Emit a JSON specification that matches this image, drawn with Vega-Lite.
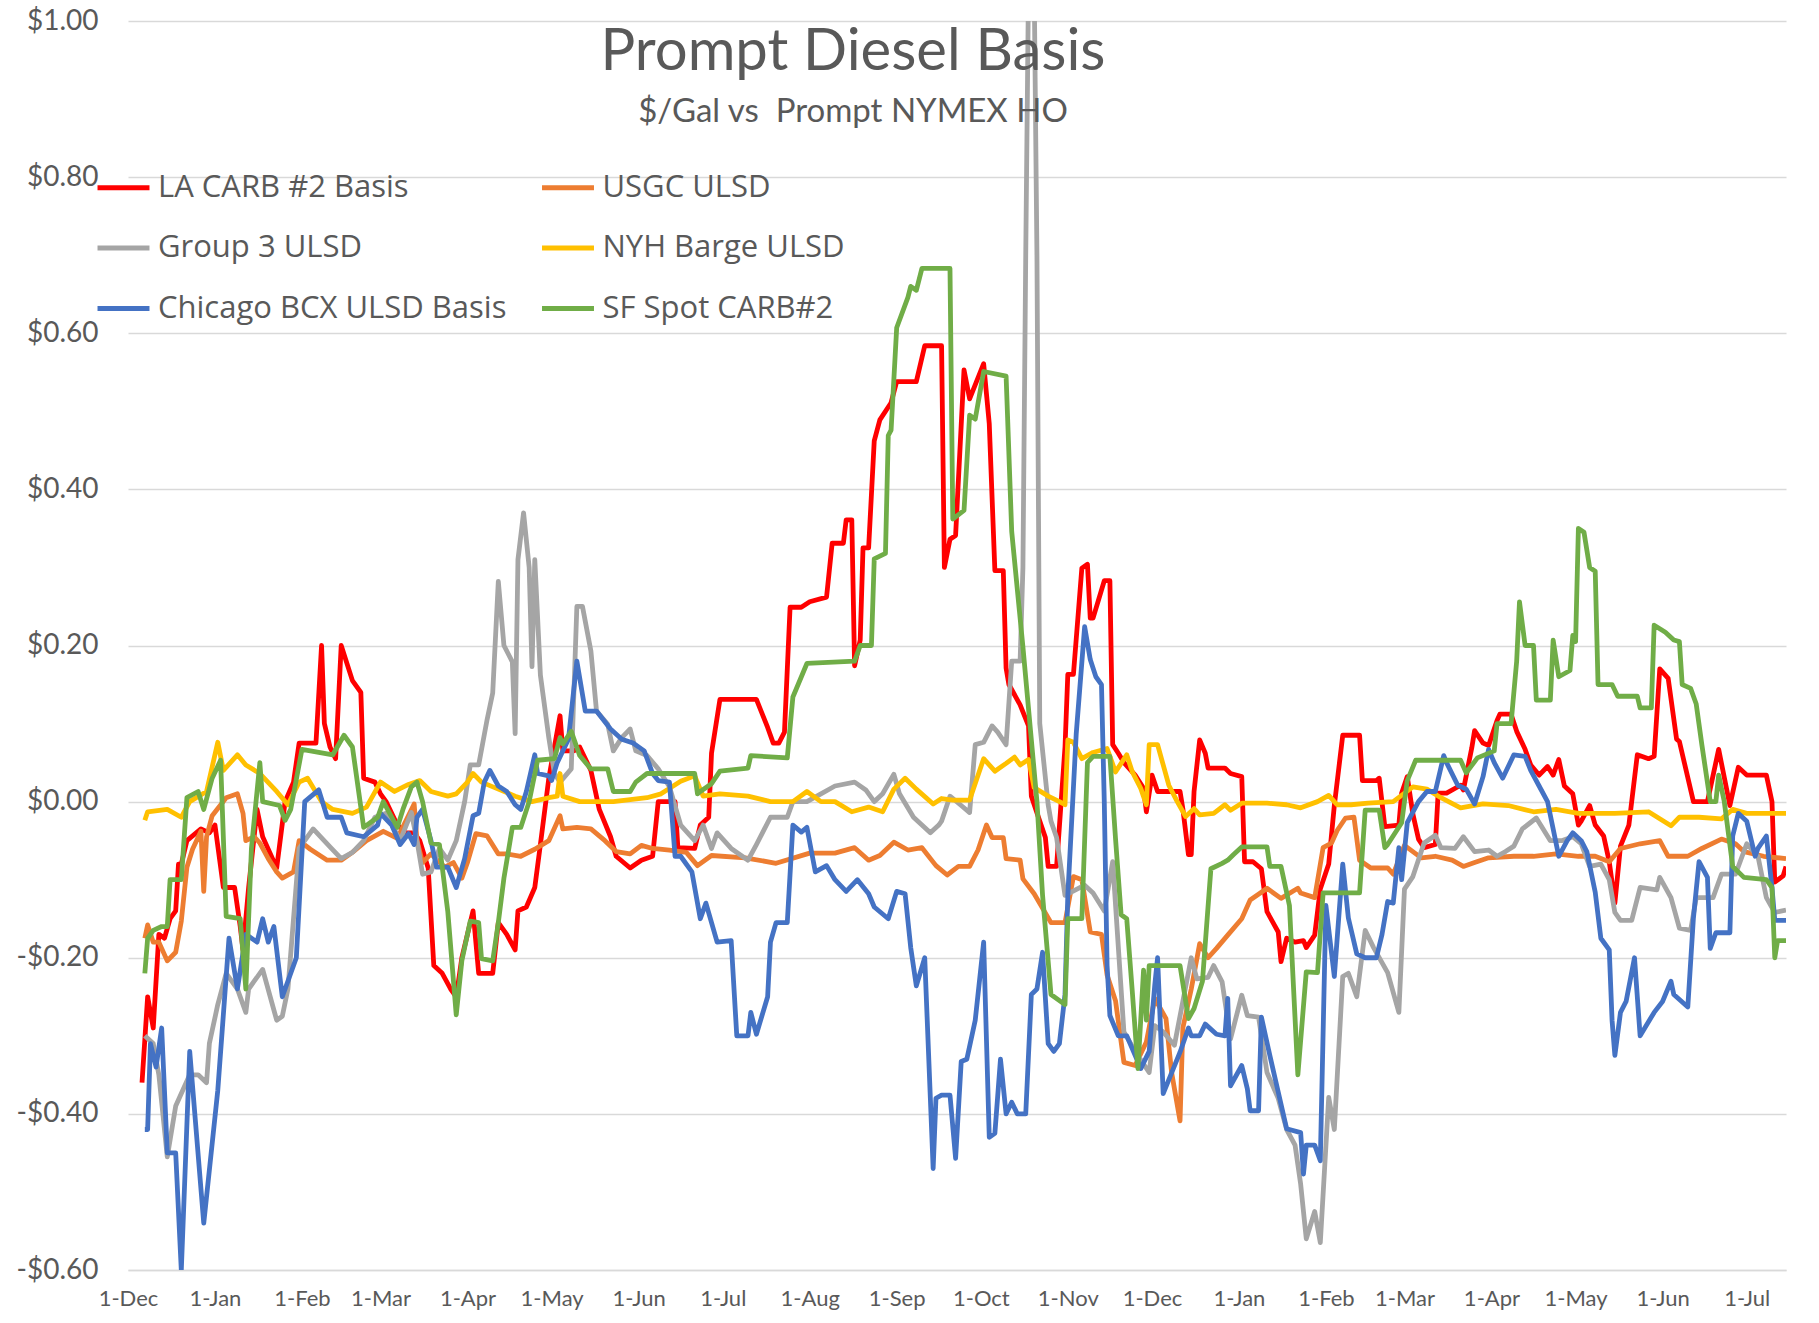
{
"$schema": "https://vega.github.io/schema/vega-lite/v6.json",
"width": 1658,
"height": 1249,
"autosize": "none",
"padding": {"left": 128, "top": 21, "right": 33, "bottom": 53},
"background": "white",
"config": {"view": {"stroke": null}, "font": "Lato"},
"title": {"text": "Prompt Diesel Basis", "subtitle": "$/Gal vs\u00a0 Prompt NYMEX HO", "anchor": "middle", "frame": "group", "dx": -104, "dy": 126, "fontSize": 58, "fontWeight": "normal", "font": "Lato", "color": "#595959", "subtitleFont": "Lato", "subtitleFontSize": 33, "subtitleColor": "#595959", "subtitlePadding": 14},
"datasets": {
"la": [{"d":"2021-12-06","v":-0.36},{"d":"2021-12-08","v":-0.25},{"d":"2021-12-10","v":-0.29},{"d":"2021-12-12","v":-0.17},{"d":"2021-12-14","v":-0.175},{"d":"2021-12-16","v":-0.15},{"d":"2021-12-18","v":-0.14},{"d":"2021-12-19","v":-0.08},{"d":"2021-12-20","v":-0.08},{"d":"2021-12-22","v":-0.05},{"d":"2021-12-27","v":-0.035},{"d":"2021-12-30","v":-0.04},{"d":"2022-01-01","v":-0.03},{"d":"2022-01-04","v":-0.11},{"d":"2022-01-08","v":-0.11},{"d":"2022-01-10","v":-0.16},{"d":"2022-01-11","v":-0.19},{"d":"2022-01-13","v":-0.11},{"d":"2022-01-16","v":-0.01},{"d":"2022-01-18","v":-0.045},{"d":"2022-01-23","v":-0.085},{"d":"2022-01-26","v":0.0},{"d":"2022-01-29","v":0.025},{"d":"2022-01-31","v":0.075},{"d":"2022-02-06","v":0.075},{"d":"2022-02-08","v":0.2},{"d":"2022-02-09","v":0.1},{"d":"2022-02-11","v":0.07},{"d":"2022-02-13","v":0.055},{"d":"2022-02-15","v":0.2},{"d":"2022-02-19","v":0.155},{"d":"2022-02-22","v":0.14},{"d":"2022-02-23","v":0.03},{"d":"2022-02-27","v":0.025},{"d":"2022-03-01","v":0.01},{"d":"2022-03-03","v":0.0},{"d":"2022-03-07","v":-0.03},{"d":"2022-03-10","v":-0.04},{"d":"2022-03-13","v":-0.04},{"d":"2022-03-15","v":-0.05},{"d":"2022-03-18","v":-0.085},{"d":"2022-03-20","v":-0.21},{"d":"2022-03-23","v":-0.22},{"d":"2022-03-26","v":-0.24},{"d":"2022-03-28","v":-0.25},{"d":"2022-03-30","v":-0.2},{"d":"2022-04-03","v":-0.14},{"d":"2022-04-05","v":-0.22},{"d":"2022-04-10","v":-0.22},{"d":"2022-04-12","v":-0.155},{"d":"2022-04-15","v":-0.17},{"d":"2022-04-18","v":-0.19},{"d":"2022-04-19","v":-0.14},{"d":"2022-04-22","v":-0.135},{"d":"2022-04-25","v":-0.11},{"d":"2022-04-27","v":-0.055},{"d":"2022-04-30","v":0.03},{"d":"2022-05-04","v":0.11},{"d":"2022-05-05","v":0.065},{"d":"2022-05-09","v":0.065},{"d":"2022-05-11","v":0.07},{"d":"2022-05-15","v":0.04},{"d":"2022-05-18","v":-0.01},{"d":"2022-05-22","v":-0.045},{"d":"2022-05-24","v":-0.07},{"d":"2022-05-29","v":-0.085},{"d":"2022-06-02","v":-0.075},{"d":"2022-06-06","v":-0.07},{"d":"2022-06-08","v":0.0},{"d":"2022-06-14","v":0.0},{"d":"2022-06-15","v":-0.059},{"d":"2022-06-21","v":-0.06},{"d":"2022-06-23","v":-0.03},{"d":"2022-06-26","v":-0.02},{"d":"2022-06-27","v":0.062},{"d":"2022-06-30","v":0.131},{"d":"2022-07-13","v":0.131},{"d":"2022-07-17","v":0.095},{"d":"2022-07-19","v":0.075},{"d":"2022-07-21","v":0.075},{"d":"2022-07-23","v":0.089},{"d":"2022-07-25","v":0.249},{"d":"2022-07-29","v":0.249},{"d":"2022-08-01","v":0.256},{"d":"2022-08-07","v":0.262},{"d":"2022-08-09","v":0.331},{"d":"2022-08-13","v":0.331},{"d":"2022-08-14","v":0.361},{"d":"2022-08-16","v":0.361},{"d":"2022-08-17","v":0.174},{"d":"2022-08-19","v":0.207},{"d":"2022-08-20","v":0.325},{"d":"2022-08-22","v":0.325},{"d":"2022-08-24","v":0.462},{"d":"2022-08-26","v":0.489},{"d":"2022-08-30","v":0.511},{"d":"2022-09-01","v":0.538},{"d":"2022-09-08","v":0.538},{"d":"2022-09-11","v":0.584},{"d":"2022-09-17","v":0.584},{"d":"2022-09-18","v":0.3},{"d":"2022-09-20","v":0.336},{"d":"2022-09-22","v":0.341},{"d":"2022-09-25","v":0.553},{"d":"2022-09-27","v":0.516},{"d":"2022-10-02","v":0.561},{"d":"2022-10-04","v":0.484},{"d":"2022-10-06","v":0.296},{"d":"2022-10-09","v":0.296},{"d":"2022-10-10","v":0.171},{"d":"2022-10-11","v":0.15},{"d":"2022-10-15","v":0.124},{"d":"2022-10-18","v":0.097},{"d":"2022-10-19","v":0.007},{"d":"2022-10-22","v":-0.025},{"d":"2022-10-24","v":-0.046},{"d":"2022-10-25","v":-0.083},{"d":"2022-10-28","v":-0.083},{"d":"2022-10-31","v":0.07},{"d":"2022-11-01","v":0.163},{"d":"2022-11-03","v":0.163},{"d":"2022-11-06","v":0.299},{"d":"2022-11-08","v":0.304},{"d":"2022-11-09","v":0.235},{"d":"2022-11-10","v":0.235},{"d":"2022-11-14","v":0.283},{"d":"2022-11-16","v":0.283},{"d":"2022-11-17","v":0.073},{"d":"2022-11-19","v":0.062},{"d":"2022-11-21","v":0.05},{"d":"2022-11-25","v":0.034},{"d":"2022-11-28","v":0.017},{"d":"2022-11-29","v":-0.013},{"d":"2022-12-01","v":0.034},{"d":"2022-12-03","v":0.013},{"d":"2022-12-11","v":0.013},{"d":"2022-12-12","v":-0.009},{"d":"2022-12-14","v":-0.068},{"d":"2022-12-15","v":-0.068},{"d":"2022-12-16","v":0.013},{"d":"2022-12-18","v":0.079},{"d":"2022-12-20","v":0.062},{"d":"2022-12-21","v":0.043},{"d":"2022-12-27","v":0.043},{"d":"2022-12-29","v":0.036},{"d":"2023-01-02","v":0.032},{"d":"2023-01-03","v":-0.077},{"d":"2023-01-06","v":-0.077},{"d":"2023-01-09","v":-0.086},{"d":"2023-01-11","v":-0.141},{"d":"2023-01-13","v":-0.154},{"d":"2023-01-15","v":-0.167},{"d":"2023-01-16","v":-0.205},{"d":"2023-01-18","v":-0.175},{"d":"2023-01-21","v":-0.18},{"d":"2023-01-24","v":-0.178},{"d":"2023-01-25","v":-0.187},{"d":"2023-01-28","v":-0.171},{"d":"2023-01-30","v":-0.112},{"d":"2023-02-02","v":-0.08},{"d":"2023-02-04","v":-0.005},{"d":"2023-02-07","v":0.085},{"d":"2023-02-13","v":0.085},{"d":"2023-02-14","v":0.027},{"d":"2023-02-19","v":0.027},{"d":"2023-02-20","v":0.03},{"d":"2023-02-22","v":-0.032},{"d":"2023-02-27","v":-0.03},{"d":"2023-02-28","v":0.011},{"d":"2023-03-02","v":0.032},{"d":"2023-03-04","v":-0.016},{"d":"2023-03-06","v":-0.048},{"d":"2023-03-08","v":-0.059},{"d":"2023-03-12","v":-0.055},{"d":"2023-03-13","v":0.011},{"d":"2023-03-16","v":0.011},{"d":"2023-03-21","v":0.021},{"d":"2023-03-22","v":0.015},{"d":"2023-03-25","v":0.069},{"d":"2023-03-26","v":0.091},{"d":"2023-03-29","v":0.075},{"d":"2023-03-31","v":0.072},{"d":"2023-04-03","v":0.104},{"d":"2023-04-04","v":0.112},{"d":"2023-04-08","v":0.112},{"d":"2023-04-10","v":0.09},{"d":"2023-04-13","v":0.067},{"d":"2023-04-15","v":0.047},{"d":"2023-04-18","v":0.034},{"d":"2023-04-21","v":0.045},{"d":"2023-04-23","v":0.034},{"d":"2023-04-25","v":0.054},{"d":"2023-04-27","v":0.02},{"d":"2023-04-30","v":0.01},{"d":"2023-05-02","v":-0.03},{"d":"2023-05-03","v":-0.025},{"d":"2023-05-06","v":-0.005},{"d":"2023-05-08","v":-0.03},{"d":"2023-05-11","v":-0.044},{"d":"2023-05-13","v":-0.077},{"d":"2023-05-15","v":-0.13},{"d":"2023-05-17","v":-0.057},{"d":"2023-05-20","v":-0.03},{"d":"2023-05-23","v":0.06},{"d":"2023-05-27","v":0.055},{"d":"2023-05-29","v":0.058},{"d":"2023-05-31","v":0.17},{"d":"2023-06-03","v":0.158},{"d":"2023-06-06","v":0.08},{"d":"2023-06-07","v":0.077},{"d":"2023-06-12","v":0.0},{"d":"2023-06-17","v":0.0},{"d":"2023-06-21","v":0.067},{"d":"2023-06-25","v":-0.005},{"d":"2023-06-28","v":0.044},{"d":"2023-07-01","v":0.034},{"d":"2023-07-08","v":0.034},{"d":"2023-07-10","v":0.0},{"d":"2023-07-11","v":-0.103},{"d":"2023-07-14","v":-0.095},{"d":"2023-07-15","v":-0.083}],
"usgc": [{"d":"2021-12-07","v":-0.175},{"d":"2021-12-08","v":-0.158},{"d":"2021-12-10","v":-0.18},{"d":"2021-12-12","v":-0.18},{"d":"2021-12-15","v":-0.204},{"d":"2021-12-18","v":-0.193},{"d":"2021-12-20","v":-0.153},{"d":"2021-12-22","v":-0.084},{"d":"2021-12-24","v":-0.061},{"d":"2021-12-27","v":-0.038},{"d":"2021-12-28","v":-0.115},{"d":"2021-12-29","v":-0.045},{"d":"2021-12-31","v":-0.018},{"d":"2022-01-05","v":0.005},{"d":"2022-01-09","v":0.01},{"d":"2022-01-11","v":-0.015},{"d":"2022-01-12","v":-0.05},{"d":"2022-01-15","v":-0.045},{"d":"2022-01-17","v":-0.053},{"d":"2022-01-20","v":-0.073},{"d":"2022-01-23","v":-0.09},{"d":"2022-01-25","v":-0.098},{"d":"2022-01-29","v":-0.09},{"d":"2022-01-31","v":-0.05},{"d":"2022-02-04","v":-0.061},{"d":"2022-02-10","v":-0.075},{"d":"2022-02-15","v":-0.075},{"d":"2022-02-19","v":-0.065},{"d":"2022-02-24","v":-0.05},{"d":"2022-03-02","v":-0.038},{"d":"2022-03-07","v":-0.047},{"d":"2022-03-13","v":-0.003},{"d":"2022-03-14","v":-0.05},{"d":"2022-03-16","v":-0.078},{"d":"2022-03-19","v":-0.067},{"d":"2022-03-24","v":-0.084},{"d":"2022-03-27","v":-0.078},{"d":"2022-03-30","v":-0.098},{"d":"2022-04-01","v":-0.078},{"d":"2022-04-04","v":-0.041},{"d":"2022-04-08","v":-0.044},{"d":"2022-04-12","v":-0.067},{"d":"2022-04-15","v":-0.067},{"d":"2022-04-20","v":-0.07},{"d":"2022-04-25","v":-0.061},{"d":"2022-04-30","v":-0.05},{"d":"2022-05-04","v":-0.018},{"d":"2022-05-05","v":-0.035},{"d":"2022-05-10","v":-0.033},{"d":"2022-05-15","v":-0.035},{"d":"2022-05-20","v":-0.05},{"d":"2022-05-24","v":-0.064},{"d":"2022-05-29","v":-0.067},{"d":"2022-06-02","v":-0.056},{"d":"2022-06-06","v":-0.06},{"d":"2022-06-12","v":-0.062},{"d":"2022-06-18","v":-0.065},{"d":"2022-06-22","v":-0.082},{"d":"2022-06-27","v":-0.069},{"d":"2022-07-09","v":-0.072},{"d":"2022-07-20","v":-0.079},{"d":"2022-08-01","v":-0.066},{"d":"2022-08-10","v":-0.066},{"d":"2022-08-17","v":-0.059},{"d":"2022-08-22","v":-0.075},{"d":"2022-08-26","v":-0.069},{"d":"2022-08-31","v":-0.052},{"d":"2022-09-05","v":-0.062},{"d":"2022-09-10","v":-0.059},{"d":"2022-09-15","v":-0.082},{"d":"2022-09-19","v":-0.094},{"d":"2022-09-23","v":-0.083},{"d":"2022-09-27","v":-0.083},{"d":"2022-09-30","v":-0.062},{"d":"2022-10-03","v":-0.03},{"d":"2022-10-05","v":-0.046},{"d":"2022-10-09","v":-0.046},{"d":"2022-10-10","v":-0.073},{"d":"2022-10-15","v":-0.075},{"d":"2022-10-16","v":-0.099},{"d":"2022-10-20","v":-0.118},{"d":"2022-10-26","v":-0.155},{"d":"2022-10-31","v":-0.155},{"d":"2022-11-03","v":-0.096},{"d":"2022-11-06","v":-0.1},{"d":"2022-11-09","v":-0.167},{"d":"2022-11-13","v":-0.17},{"d":"2022-11-15","v":-0.222},{"d":"2022-11-18","v":-0.255},{"d":"2022-11-21","v":-0.334},{"d":"2022-11-25","v":-0.338},{"d":"2022-11-29","v":-0.308},{"d":"2022-12-02","v":-0.252},{"d":"2022-12-06","v":-0.278},{"d":"2022-12-08","v":-0.347},{"d":"2022-12-11","v":-0.409},{"d":"2022-12-12","v":-0.29},{"d":"2022-12-15","v":-0.24},{"d":"2022-12-18","v":-0.182},{"d":"2022-12-21","v":-0.2},{"d":"2022-12-24","v":-0.188},{"d":"2022-12-28","v":-0.171},{"d":"2023-01-02","v":-0.15},{"d":"2023-01-05","v":-0.126},{"d":"2023-01-09","v":-0.116},{"d":"2023-01-11","v":-0.111},{"d":"2023-01-16","v":-0.124},{"d":"2023-01-22","v":-0.111},{"d":"2023-01-23","v":-0.117},{"d":"2023-01-28","v":-0.123},{"d":"2023-01-31","v":-0.059},{"d":"2023-02-03","v":-0.053},{"d":"2023-02-05","v":-0.037},{"d":"2023-02-08","v":-0.021},{"d":"2023-02-11","v":-0.02},{"d":"2023-02-13","v":-0.075},{"d":"2023-02-17","v":-0.085},{"d":"2023-02-21","v":-0.085},{"d":"2023-02-23","v":-0.085},{"d":"2023-02-25","v":-0.093},{"d":"2023-03-01","v":-0.056},{"d":"2023-03-04","v":-0.064},{"d":"2023-03-07","v":-0.072},{"d":"2023-03-12","v":-0.07},{"d":"2023-03-18","v":-0.075},{"d":"2023-03-22","v":-0.083},{"d":"2023-03-26","v":-0.078},{"d":"2023-03-31","v":-0.072},{"d":"2023-04-09","v":-0.07},{"d":"2023-04-16","v":-0.07},{"d":"2023-04-24","v":-0.067},{"d":"2023-05-02","v":-0.07},{"d":"2023-05-08","v":-0.07},{"d":"2023-05-13","v":-0.077},{"d":"2023-05-17","v":-0.06},{"d":"2023-05-24","v":-0.054},{"d":"2023-05-31","v":-0.05},{"d":"2023-06-03","v":-0.07},{"d":"2023-06-10","v":-0.07},{"d":"2023-06-15","v":-0.06},{"d":"2023-06-22","v":-0.048},{"d":"2023-06-27","v":-0.054},{"d":"2023-06-30","v":-0.064},{"d":"2023-07-07","v":-0.07},{"d":"2023-07-15","v":-0.073}],
"g3": [{"d":"2021-12-07","v":-0.3},{"d":"2021-12-10","v":-0.31},{"d":"2021-12-12","v":-0.35},{"d":"2021-12-15","v":-0.455},{"d":"2021-12-18","v":-0.39},{"d":"2021-12-23","v":-0.35},{"d":"2021-12-26","v":-0.35},{"d":"2021-12-29","v":-0.36},{"d":"2021-12-30","v":-0.31},{"d":"2022-01-02","v":-0.26},{"d":"2022-01-05","v":-0.22},{"d":"2022-01-09","v":-0.24},{"d":"2022-01-12","v":-0.27},{"d":"2022-01-13","v":-0.24},{"d":"2022-01-18","v":-0.215},{"d":"2022-01-23","v":-0.28},{"d":"2022-01-25","v":-0.275},{"d":"2022-01-27","v":-0.24},{"d":"2022-01-31","v":-0.06},{"d":"2022-02-05","v":-0.035},{"d":"2022-02-11","v":-0.058},{"d":"2022-02-15","v":-0.073},{"d":"2022-02-19","v":-0.065},{"d":"2022-02-23","v":-0.05},{"d":"2022-02-27","v":-0.02},{"d":"2022-03-03","v":-0.015},{"d":"2022-03-08","v":-0.05},{"d":"2022-03-12","v":-0.014},{"d":"2022-03-14","v":-0.05},{"d":"2022-03-16","v":-0.093},{"d":"2022-03-19","v":-0.09},{"d":"2022-03-22","v":-0.06},{"d":"2022-03-25","v":-0.075},{"d":"2022-03-28","v":-0.05},{"d":"2022-03-31","v":0.0},{"d":"2022-04-02","v":0.047},{"d":"2022-04-05","v":0.047},{"d":"2022-04-08","v":0.105},{"d":"2022-04-10","v":0.139},{"d":"2022-04-12","v":0.282},{"d":"2022-04-14","v":0.2},{"d":"2022-04-17","v":0.179},{"d":"2022-04-18","v":0.087},{"d":"2022-04-19","v":0.31},{"d":"2022-04-21","v":0.37},{"d":"2022-04-23","v":0.3},{"d":"2022-04-24","v":0.173},{"d":"2022-04-25","v":0.31},{"d":"2022-04-27","v":0.162},{"d":"2022-04-30","v":0.082},{"d":"2022-05-02","v":0.036},{"d":"2022-05-04","v":0.025},{"d":"2022-05-08","v":0.042},{"d":"2022-05-10","v":0.25},{"d":"2022-05-12","v":0.25},{"d":"2022-05-15","v":0.193},{"d":"2022-05-17","v":0.116},{"d":"2022-05-21","v":0.099},{"d":"2022-05-23","v":0.065},{"d":"2022-05-26","v":0.082},{"d":"2022-05-29","v":0.093},{"d":"2022-05-31","v":0.065},{"d":"2022-06-04","v":0.059},{"d":"2022-06-08","v":0.042},{"d":"2022-06-12","v":0.019},{"d":"2022-06-16","v":-0.03},{"d":"2022-06-21","v":-0.05},{"d":"2022-06-24","v":-0.03},{"d":"2022-06-27","v":-0.06},{"d":"2022-06-29","v":-0.04},{"d":"2022-07-04","v":-0.06},{"d":"2022-07-10","v":-0.075},{"d":"2022-07-13","v":-0.055},{"d":"2022-07-18","v":-0.02},{"d":"2022-07-24","v":-0.02},{"d":"2022-07-26","v":0.0},{"d":"2022-07-31","v":0.0},{"d":"2022-08-05","v":0.01},{"d":"2022-08-10","v":0.02},{"d":"2022-08-17","v":0.025},{"d":"2022-08-21","v":0.015},{"d":"2022-08-24","v":0.0},{"d":"2022-08-27","v":0.01},{"d":"2022-08-31","v":0.035},{"d":"2022-09-02","v":0.01},{"d":"2022-09-07","v":-0.02},{"d":"2022-09-13","v":-0.04},{"d":"2022-09-16","v":-0.03},{"d":"2022-09-17","v":-0.025},{"d":"2022-09-20","v":0.007},{"d":"2022-09-24","v":-0.005},{"d":"2022-09-27","v":-0.014},{"d":"2022-09-29","v":0.073},{"d":"2022-10-02","v":0.076},{"d":"2022-10-05","v":0.097},{"d":"2022-10-07","v":0.089},{"d":"2022-10-10","v":0.073},{"d":"2022-10-12","v":0.18},{"d":"2022-10-15","v":0.18},{"d":"2022-10-16","v":0.3},{"d":"2022-10-17","v":0.7},{"d":"2022-10-19","v":1.4},{"d":"2022-10-21","v":0.7},{"d":"2022-10-22","v":0.1},{"d":"2022-10-25","v":-0.004},{"d":"2022-10-26","v":-0.025},{"d":"2022-10-28","v":-0.046},{"d":"2022-10-31","v":-0.12},{"d":"2022-11-07","v":-0.107},{"d":"2022-11-10","v":-0.117},{"d":"2022-11-14","v":-0.14},{"d":"2022-11-17","v":-0.077},{"d":"2022-11-21","v":-0.295},{"d":"2022-11-25","v":-0.32},{"d":"2022-11-30","v":-0.347},{"d":"2022-12-02","v":-0.287},{"d":"2022-12-05","v":-0.295},{"d":"2022-12-09","v":-0.312},{"d":"2022-12-15","v":-0.2},{"d":"2022-12-17","v":-0.227},{"d":"2022-12-21","v":-0.225},{"d":"2022-12-23","v":-0.21},{"d":"2022-12-26","v":-0.231},{"d":"2022-12-29","v":-0.304},{"d":"2023-01-02","v":-0.248},{"d":"2023-01-04","v":-0.274},{"d":"2023-01-08","v":-0.276},{"d":"2023-01-11","v":-0.347},{"d":"2023-01-15","v":-0.38},{"d":"2023-01-18","v":-0.42},{"d":"2023-01-21","v":-0.44},{"d":"2023-01-23","v":-0.49},{"d":"2023-01-25","v":-0.56},{"d":"2023-01-28","v":-0.525},{"d":"2023-01-30","v":-0.565},{"d":"2023-02-02","v":-0.379},{"d":"2023-02-04","v":-0.42},{"d":"2023-02-07","v":-0.224},{"d":"2023-02-09","v":-0.22},{"d":"2023-02-12","v":-0.25},{"d":"2023-02-15","v":-0.165},{"d":"2023-02-18","v":-0.187},{"d":"2023-02-23","v":-0.219},{"d":"2023-02-27","v":-0.27},{"d":"2023-03-01","v":-0.112},{"d":"2023-03-04","v":-0.096},{"d":"2023-03-08","v":-0.053},{"d":"2023-03-12","v":-0.043},{"d":"2023-03-14","v":-0.059},{"d":"2023-03-19","v":-0.06},{"d":"2023-03-22","v":-0.045},{"d":"2023-03-26","v":-0.064},{"d":"2023-03-31","v":-0.062},{"d":"2023-04-03","v":-0.07},{"d":"2023-04-06","v":-0.064},{"d":"2023-04-09","v":-0.057},{"d":"2023-04-12","v":-0.035},{"d":"2023-04-17","v":-0.021},{"d":"2023-04-22","v":-0.05},{"d":"2023-04-26","v":-0.05},{"d":"2023-04-30","v":-0.045},{"d":"2023-05-03","v":-0.054},{"d":"2023-05-06","v":-0.083},{"d":"2023-05-10","v":-0.08},{"d":"2023-05-13","v":-0.1},{"d":"2023-05-15","v":-0.142},{"d":"2023-05-17","v":-0.152},{"d":"2023-05-21","v":-0.152},{"d":"2023-05-24","v":-0.11},{"d":"2023-05-30","v":-0.113},{"d":"2023-05-31","v":-0.097},{"d":"2023-06-04","v":-0.123},{"d":"2023-06-07","v":-0.162},{"d":"2023-06-11","v":-0.165},{"d":"2023-06-13","v":-0.123},{"d":"2023-06-19","v":-0.123},{"d":"2023-06-22","v":-0.093},{"d":"2023-06-27","v":-0.093},{"d":"2023-07-01","v":-0.054},{"d":"2023-07-05","v":-0.07},{"d":"2023-07-08","v":-0.123},{"d":"2023-07-11","v":-0.142},{"d":"2023-07-15","v":-0.139}],
"nyh": [{"d":"2021-12-07","v":-0.024},{"d":"2021-12-08","v":-0.013},{"d":"2021-12-15","v":-0.01},{"d":"2021-12-20","v":-0.02},{"d":"2021-12-23","v":0.0},{"d":"2021-12-29","v":0.013},{"d":"2022-01-02","v":0.076},{"d":"2022-01-04","v":0.04},{"d":"2022-01-09","v":0.06},{"d":"2022-01-12","v":0.047},{"d":"2022-01-17","v":0.036},{"d":"2022-01-23","v":0.013},{"d":"2022-01-27","v":-0.004},{"d":"2022-01-31","v":0.025},{"d":"2022-02-03","v":0.03},{"d":"2022-02-08","v":0.0},{"d":"2022-02-12","v":-0.01},{"d":"2022-02-19","v":-0.015},{"d":"2022-02-24","v":-0.007},{"d":"2022-03-01","v":0.025},{"d":"2022-03-06","v":0.013},{"d":"2022-03-11","v":0.022},{"d":"2022-03-15","v":0.027},{"d":"2022-03-19","v":0.013},{"d":"2022-03-25","v":0.007},{"d":"2022-03-28","v":0.01},{"d":"2022-04-01","v":0.025},{"d":"2022-04-03","v":0.036},{"d":"2022-04-06","v":0.025},{"d":"2022-04-12","v":0.016},{"d":"2022-04-18","v":0.007},{"d":"2022-04-24","v":0.0},{"d":"2022-04-30","v":0.005},{"d":"2022-05-03","v":0.007},{"d":"2022-05-04","v":0.036},{"d":"2022-05-05","v":0.007},{"d":"2022-05-11","v":0.0},{"d":"2022-05-23","v":0.0},{"d":"2022-06-04","v":0.005},{"d":"2022-06-09","v":0.01},{"d":"2022-06-16","v":0.026},{"d":"2022-06-21","v":0.033},{"d":"2022-06-24","v":0.007},{"d":"2022-06-30","v":0.01},{"d":"2022-07-10","v":0.007},{"d":"2022-07-18","v":0.0},{"d":"2022-07-26","v":0.0},{"d":"2022-07-31","v":0.013},{"d":"2022-08-05","v":0.0},{"d":"2022-08-10","v":0.0},{"d":"2022-08-16","v":-0.013},{"d":"2022-08-22","v":-0.007},{"d":"2022-08-27","v":-0.013},{"d":"2022-08-31","v":0.016},{"d":"2022-09-04","v":0.03},{"d":"2022-09-08","v":0.016},{"d":"2022-09-14","v":-0.003},{"d":"2022-09-17","v":0.004},{"d":"2022-09-21","v":0.002},{"d":"2022-09-27","v":0.002},{"d":"2022-10-02","v":0.055},{"d":"2022-10-06","v":0.039},{"d":"2022-10-10","v":0.049},{"d":"2022-10-13","v":0.057},{"d":"2022-10-15","v":0.047},{"d":"2022-10-18","v":0.054},{"d":"2022-10-20","v":0.018},{"d":"2022-10-25","v":0.007},{"d":"2022-10-29","v":0.0},{"d":"2022-10-31","v":-0.004},{"d":"2022-11-01","v":0.079},{"d":"2022-11-03","v":0.076},{"d":"2022-11-06","v":0.055},{"d":"2022-11-10","v":0.063},{"d":"2022-11-15","v":0.068},{"d":"2022-11-18","v":0.038},{"d":"2022-11-22","v":0.06},{"d":"2022-11-24","v":0.038},{"d":"2022-11-27","v":0.017},{"d":"2022-11-29","v":-0.004},{"d":"2022-11-30","v":0.073},{"d":"2022-12-03","v":0.073},{"d":"2022-12-05","v":0.047},{"d":"2022-12-07","v":0.021},{"d":"2022-12-10","v":0.0},{"d":"2022-12-13","v":-0.019},{"d":"2022-12-16","v":-0.009},{"d":"2022-12-18","v":-0.017},{"d":"2022-12-23","v":-0.015},{"d":"2022-12-27","v":-0.004},{"d":"2022-12-29","v":-0.011},{"d":"2023-01-02","v":-0.002},{"d":"2023-01-11","v":-0.002},{"d":"2023-01-18","v":-0.004},{"d":"2023-01-23","v":-0.008},{"d":"2023-01-29","v":0.0},{"d":"2023-02-02","v":0.008},{"d":"2023-02-05","v":-0.004},{"d":"2023-02-10","v":-0.004},{"d":"2023-02-16","v":-0.002},{"d":"2023-02-25","v":0.0},{"d":"2023-03-04","v":0.019},{"d":"2023-03-09","v":0.016},{"d":"2023-03-14","v":0.005},{"d":"2023-03-21","v":-0.008},{"d":"2023-03-29","v":-0.003},{"d":"2023-04-07","v":-0.005},{"d":"2023-04-16","v":-0.013},{"d":"2023-04-24","v":-0.01},{"d":"2023-05-02","v":-0.015},{"d":"2023-05-15","v":-0.015},{"d":"2023-05-27","v":-0.013},{"d":"2023-06-04","v":-0.031},{"d":"2023-06-07","v":-0.02},{"d":"2023-06-14","v":-0.02},{"d":"2023-06-22","v":-0.022},{"d":"2023-06-26","v":-0.01},{"d":"2023-07-01","v":-0.015},{"d":"2023-07-08","v":-0.015},{"d":"2023-07-15","v":-0.015}],
"chi": [{"d":"2021-12-07","v":-0.42},{"d":"2021-12-08","v":-0.42},{"d":"2021-12-09","v":-0.31},{"d":"2021-12-11","v":-0.34},{"d":"2021-12-13","v":-0.29},{"d":"2021-12-15","v":-0.45},{"d":"2021-12-18","v":-0.45},{"d":"2021-12-20","v":-0.6},{"d":"2021-12-23","v":-0.32},{"d":"2021-12-28","v":-0.54},{"d":"2022-01-02","v":-0.37},{"d":"2022-01-06","v":-0.175},{"d":"2022-01-09","v":-0.24},{"d":"2022-01-12","v":-0.17},{"d":"2022-01-16","v":-0.18},{"d":"2022-01-18","v":-0.15},{"d":"2022-01-20","v":-0.18},{"d":"2022-01-22","v":-0.16},{"d":"2022-01-25","v":-0.25},{"d":"2022-01-30","v":-0.2},{"d":"2022-02-02","v":0.0},{"d":"2022-02-07","v":0.015},{"d":"2022-02-10","v":-0.02},{"d":"2022-02-15","v":-0.02},{"d":"2022-02-17","v":-0.04},{"d":"2022-02-23","v":-0.045},{"d":"2022-02-28","v":-0.03},{"d":"2022-03-01","v":-0.015},{"d":"2022-03-05","v":-0.03},{"d":"2022-03-08","v":-0.055},{"d":"2022-03-11","v":-0.041},{"d":"2022-03-13","v":-0.055},{"d":"2022-03-14","v":-0.02},{"d":"2022-03-16","v":-0.01},{"d":"2022-03-19","v":-0.05},{"d":"2022-03-21","v":-0.084},{"d":"2022-03-25","v":-0.084},{"d":"2022-03-28","v":-0.11},{"d":"2022-03-31","v":-0.073},{"d":"2022-04-03","v":-0.018},{"d":"2022-04-05","v":-0.015},{"d":"2022-04-07","v":0.025},{"d":"2022-04-09","v":0.04},{"d":"2022-04-12","v":0.02},{"d":"2022-04-15","v":0.013},{"d":"2022-04-18","v":-0.004},{"d":"2022-04-20","v":-0.01},{"d":"2022-04-22","v":0.013},{"d":"2022-04-25","v":0.06},{"d":"2022-04-26","v":0.036},{"d":"2022-04-30","v":0.033},{"d":"2022-05-01","v":0.027},{"d":"2022-05-03","v":0.05},{"d":"2022-05-07","v":0.08},{"d":"2022-05-10","v":0.18},{"d":"2022-05-13","v":0.116},{"d":"2022-05-17","v":0.116},{"d":"2022-05-22","v":0.093},{"d":"2022-05-26","v":0.08},{"d":"2022-05-30","v":0.075},{"d":"2022-06-03","v":0.065},{"d":"2022-06-06","v":0.036},{"d":"2022-06-08","v":0.027},{"d":"2022-06-12","v":0.025},{"d":"2022-06-14","v":-0.07},{"d":"2022-06-16","v":-0.07},{"d":"2022-06-20","v":-0.09},{"d":"2022-06-23","v":-0.15},{"d":"2022-06-25","v":-0.13},{"d":"2022-06-29","v":-0.18},{"d":"2022-07-04","v":-0.178},{"d":"2022-07-06","v":-0.3},{"d":"2022-07-10","v":-0.3},{"d":"2022-07-11","v":-0.27},{"d":"2022-07-13","v":-0.298},{"d":"2022-07-17","v":-0.25},{"d":"2022-07-18","v":-0.18},{"d":"2022-07-20","v":-0.155},{"d":"2022-07-24","v":-0.155},{"d":"2022-07-26","v":-0.03},{"d":"2022-07-29","v":-0.039},{"d":"2022-07-31","v":-0.033},{"d":"2022-08-03","v":-0.09},{"d":"2022-08-07","v":-0.082},{"d":"2022-08-10","v":-0.1},{"d":"2022-08-14","v":-0.115},{"d":"2022-08-18","v":-0.1},{"d":"2022-08-22","v":-0.118},{"d":"2022-08-24","v":-0.135},{"d":"2022-08-29","v":-0.15},{"d":"2022-09-01","v":-0.115},{"d":"2022-09-04","v":-0.118},{"d":"2022-09-06","v":-0.187},{"d":"2022-09-08","v":-0.236},{"d":"2022-09-11","v":-0.2},{"d":"2022-09-13","v":-0.38},{"d":"2022-09-14","v":-0.47},{"d":"2022-09-15","v":-0.38},{"d":"2022-09-17","v":-0.376},{"d":"2022-09-20","v":-0.376},{"d":"2022-09-22","v":-0.457},{"d":"2022-09-24","v":-0.333},{"d":"2022-09-26","v":-0.33},{"d":"2022-09-29","v":-0.28},{"d":"2022-10-02","v":-0.18},{"d":"2022-10-04","v":-0.43},{"d":"2022-10-06","v":-0.425},{"d":"2022-10-08","v":-0.33},{"d":"2022-10-10","v":-0.4},{"d":"2022-10-12","v":-0.385},{"d":"2022-10-14","v":-0.4},{"d":"2022-10-17","v":-0.4},{"d":"2022-10-19","v":-0.247},{"d":"2022-10-21","v":-0.24},{"d":"2022-10-23","v":-0.193},{"d":"2022-10-25","v":-0.31},{"d":"2022-10-27","v":-0.32},{"d":"2022-10-29","v":-0.31},{"d":"2022-10-31","v":-0.247},{"d":"2022-11-01","v":-0.12},{"d":"2022-11-04","v":0.087},{"d":"2022-11-07","v":0.224},{"d":"2022-11-09","v":0.182},{"d":"2022-11-11","v":0.16},{"d":"2022-11-13","v":0.15},{"d":"2022-11-14","v":0.0},{"d":"2022-11-15","v":-0.21},{"d":"2022-11-16","v":-0.274},{"d":"2022-11-19","v":-0.3},{"d":"2022-11-22","v":-0.3},{"d":"2022-11-25","v":-0.325},{"d":"2022-11-27","v":-0.342},{"d":"2022-11-30","v":-0.32},{"d":"2022-12-02","v":-0.235},{"d":"2022-12-03","v":-0.2},{"d":"2022-12-05","v":-0.374},{"d":"2022-12-11","v":-0.321},{"d":"2022-12-14","v":-0.29},{"d":"2022-12-15","v":-0.3},{"d":"2022-12-18","v":-0.3},{"d":"2022-12-20","v":-0.285},{"d":"2022-12-24","v":-0.298},{"d":"2022-12-27","v":-0.3},{"d":"2022-12-28","v":-0.252},{"d":"2022-12-29","v":-0.364},{"d":"2023-01-02","v":-0.338},{"d":"2023-01-04","v":-0.368},{"d":"2023-01-05","v":-0.396},{"d":"2023-01-08","v":-0.396},{"d":"2023-01-09","v":-0.276},{"d":"2023-01-12","v":-0.325},{"d":"2023-01-15","v":-0.372},{"d":"2023-01-18","v":-0.419},{"d":"2023-01-23","v":-0.424},{"d":"2023-01-24","v":-0.477},{"d":"2023-01-25","v":-0.44},{"d":"2023-01-28","v":-0.44},{"d":"2023-01-30","v":-0.46},{"d":"2023-02-01","v":-0.133},{"d":"2023-02-04","v":-0.224},{"d":"2023-02-07","v":-0.08},{"d":"2023-02-09","v":-0.149},{"d":"2023-02-12","v":-0.195},{"d":"2023-02-15","v":-0.2},{"d":"2023-02-19","v":-0.2},{"d":"2023-02-21","v":-0.17},{"d":"2023-02-23","v":-0.128},{"d":"2023-02-25","v":-0.13},{"d":"2023-02-27","v":-0.059},{"d":"2023-02-28","v":-0.1},{"d":"2023-03-02","v":-0.027},{"d":"2023-03-06","v":0.0},{"d":"2023-03-09","v":0.013},{"d":"2023-03-12","v":0.013},{"d":"2023-03-15","v":0.059},{"d":"2023-03-16","v":0.05},{"d":"2023-03-20","v":0.021},{"d":"2023-03-23","v":0.016},{"d":"2023-03-26","v":-0.003},{"d":"2023-03-29","v":0.032},{"d":"2023-03-31","v":0.067},{"d":"2023-04-02","v":0.05},{"d":"2023-04-05","v":0.03},{"d":"2023-04-09","v":0.06},{"d":"2023-04-13","v":0.058},{"d":"2023-04-15","v":0.04},{"d":"2023-04-18","v":0.02},{"d":"2023-04-21","v":0.0},{"d":"2023-04-25","v":-0.07},{"d":"2023-04-28","v":-0.05},{"d":"2023-04-30","v":-0.04},{"d":"2023-05-03","v":-0.05},{"d":"2023-05-05","v":-0.064},{"d":"2023-05-08","v":-0.116},{"d":"2023-05-10","v":-0.175},{"d":"2023-05-13","v":-0.19},{"d":"2023-05-14","v":-0.28},{"d":"2023-05-15","v":-0.325},{"d":"2023-05-17","v":-0.27},{"d":"2023-05-19","v":-0.256},{"d":"2023-05-22","v":-0.2},{"d":"2023-05-24","v":-0.3},{"d":"2023-05-29","v":-0.27},{"d":"2023-06-01","v":-0.256},{"d":"2023-06-04","v":-0.23},{"d":"2023-06-05","v":-0.247},{"d":"2023-06-10","v":-0.263},{"d":"2023-06-12","v":-0.149},{"d":"2023-06-14","v":-0.077},{"d":"2023-06-17","v":-0.097},{"d":"2023-06-18","v":-0.188},{"d":"2023-06-20","v":-0.168},{"d":"2023-06-25","v":-0.168},{"d":"2023-06-26","v":-0.044},{"d":"2023-06-28","v":-0.015},{"d":"2023-07-01","v":-0.025},{"d":"2023-07-04","v":-0.07},{"d":"2023-07-05","v":-0.06},{"d":"2023-07-08","v":-0.044},{"d":"2023-07-10","v":-0.11},{"d":"2023-07-11","v":-0.152},{"d":"2023-07-15","v":-0.152}],
"sf": [{"d":"2021-12-07","v":-0.22},{"d":"2021-12-08","v":-0.175},{"d":"2021-12-10","v":-0.165},{"d":"2021-12-13","v":-0.16},{"d":"2021-12-15","v":-0.16},{"d":"2021-12-16","v":-0.1},{"d":"2021-12-20","v":-0.1},{"d":"2021-12-22","v":0.005},{"d":"2021-12-26","v":0.013},{"d":"2021-12-28","v":-0.01},{"d":"2021-12-31","v":0.03},{"d":"2022-01-03","v":0.053},{"d":"2022-01-05","v":-0.147},{"d":"2022-01-10","v":-0.15},{"d":"2022-01-12","v":-0.24},{"d":"2022-01-14","v":-0.06},{"d":"2022-01-17","v":0.05},{"d":"2022-01-18","v":0.0},{"d":"2022-01-24","v":-0.005},{"d":"2022-01-26","v":-0.024},{"d":"2022-01-28","v":-0.01},{"d":"2022-02-01","v":0.067},{"d":"2022-02-12","v":0.06},{"d":"2022-02-16","v":0.085},{"d":"2022-02-19","v":0.07},{"d":"2022-02-23","v":-0.033},{"d":"2022-02-28","v":-0.02},{"d":"2022-03-02","v":0.0},{"d":"2022-03-07","v":-0.033},{"d":"2022-03-09","v":-0.01},{"d":"2022-03-12","v":0.019},{"d":"2022-03-14","v":0.025},{"d":"2022-03-16","v":0.0},{"d":"2022-03-19","v":-0.053},{"d":"2022-03-22","v":-0.055},{"d":"2022-03-25","v":-0.141},{"d":"2022-03-28","v":-0.273},{"d":"2022-03-30","v":-0.204},{"d":"2022-04-02","v":-0.153},{"d":"2022-04-05","v":-0.155},{"d":"2022-04-06","v":-0.201},{"d":"2022-04-10","v":-0.204},{"d":"2022-04-12","v":-0.155},{"d":"2022-04-14","v":-0.098},{"d":"2022-04-17","v":-0.033},{"d":"2022-04-20","v":-0.033},{"d":"2022-04-23","v":0.0},{"d":"2022-04-26","v":0.053},{"d":"2022-05-02","v":0.055},{"d":"2022-05-04","v":0.082},{"d":"2022-05-05","v":0.074},{"d":"2022-05-08","v":0.09},{"d":"2022-05-11","v":0.059},{"d":"2022-05-15","v":0.042},{"d":"2022-05-21","v":0.042},{"d":"2022-05-23","v":0.013},{"d":"2022-05-29","v":0.013},{"d":"2022-05-31","v":0.025},{"d":"2022-06-04","v":0.036},{"d":"2022-06-21","v":0.036},{"d":"2022-06-22","v":0.01},{"d":"2022-06-23","v":0.013},{"d":"2022-06-27","v":0.023},{"d":"2022-06-30","v":0.039},{"d":"2022-07-10","v":0.043},{"d":"2022-07-11","v":0.059},{"d":"2022-07-24","v":0.056},{"d":"2022-07-26","v":0.134},{"d":"2022-07-31","v":0.177},{"d":"2022-08-17","v":0.18},{"d":"2022-08-19","v":0.2},{"d":"2022-08-23","v":0.2},{"d":"2022-08-24","v":0.311},{"d":"2022-08-28","v":0.318},{"d":"2022-08-29","v":0.469},{"d":"2022-08-30","v":0.476},{"d":"2022-09-01","v":0.607},{"d":"2022-09-05","v":0.646},{"d":"2022-09-06","v":0.66},{"d":"2022-09-08","v":0.655},{"d":"2022-09-10","v":0.683},{"d":"2022-09-20","v":0.683},{"d":"2022-09-21","v":0.362},{"d":"2022-09-25","v":0.373},{"d":"2022-09-27","v":0.495},{"d":"2022-09-29","v":0.49},{"d":"2022-10-02","v":0.551},{"d":"2022-10-10","v":0.545},{"d":"2022-10-12","v":0.346},{"d":"2022-10-16","v":0.198},{"d":"2022-10-21","v":0.0},{"d":"2022-10-23","v":-0.12},{"d":"2022-10-26","v":-0.247},{"d":"2022-10-31","v":-0.26},{"d":"2022-11-01","v":-0.15},{"d":"2022-11-06","v":-0.15},{"d":"2022-11-08","v":0.05},{"d":"2022-11-10","v":0.058},{"d":"2022-11-16","v":0.058},{"d":"2022-11-18","v":-0.047},{"d":"2022-11-20","v":-0.145},{"d":"2022-11-22","v":-0.15},{"d":"2022-11-24","v":-0.244},{"d":"2022-11-26","v":-0.342},{"d":"2022-11-28","v":-0.216},{"d":"2022-11-29","v":-0.28},{"d":"2022-11-30","v":-0.21},{"d":"2022-12-11","v":-0.21},{"d":"2022-12-14","v":-0.278},{"d":"2022-12-16","v":-0.265},{"d":"2022-12-19","v":-0.23},{"d":"2022-12-22","v":-0.086},{"d":"2022-12-26","v":-0.079},{"d":"2022-12-28","v":-0.075},{"d":"2022-12-30","v":-0.068},{"d":"2023-01-02","v":-0.058},{"d":"2023-01-11","v":-0.058},{"d":"2023-01-12","v":-0.083},{"d":"2023-01-16","v":-0.083},{"d":"2023-01-19","v":-0.133},{"d":"2023-01-22","v":-0.35},{"d":"2023-01-25","v":-0.218},{"d":"2023-01-29","v":-0.219},{"d":"2023-01-31","v":-0.117},{"d":"2023-02-13","v":-0.117},{"d":"2023-02-15","v":-0.011},{"d":"2023-02-20","v":-0.011},{"d":"2023-02-22","v":-0.059},{"d":"2023-02-23","v":-0.055},{"d":"2023-02-28","v":-0.027},{"d":"2023-03-02","v":0.027},{"d":"2023-03-05","v":0.053},{"d":"2023-03-21","v":0.053},{"d":"2023-03-23","v":0.037},{"d":"2023-03-27","v":0.056},{"d":"2023-04-02","v":0.065},{"d":"2023-04-03","v":0.1},{"d":"2023-04-08","v":0.1},{"d":"2023-04-10","v":0.18},{"d":"2023-04-11","v":0.256},{"d":"2023-04-13","v":0.2},{"d":"2023-04-16","v":0.2},{"d":"2023-04-17","v":0.13},{"d":"2023-04-22","v":0.13},{"d":"2023-04-23","v":0.207},{"d":"2023-04-25","v":0.16},{"d":"2023-04-29","v":0.168},{"d":"2023-04-30","v":0.213},{"d":"2023-05-01","v":0.205},{"d":"2023-05-02","v":0.35},{"d":"2023-05-04","v":0.345},{"d":"2023-05-06","v":0.3},{"d":"2023-05-08","v":0.295},{"d":"2023-05-09","v":0.15},{"d":"2023-05-14","v":0.15},{"d":"2023-05-16","v":0.135},{"d":"2023-05-23","v":0.135},{"d":"2023-05-24","v":0.12},{"d":"2023-05-28","v":0.12},{"d":"2023-05-29","v":0.226},{"d":"2023-06-02","v":0.217},{"d":"2023-06-05","v":0.207},{"d":"2023-06-07","v":0.205},{"d":"2023-06-08","v":0.15},{"d":"2023-06-11","v":0.145},{"d":"2023-06-13","v":0.125},{"d":"2023-06-15","v":0.073},{"d":"2023-06-18","v":0.0},{"d":"2023-06-20","v":0.0},{"d":"2023-06-21","v":0.034},{"d":"2023-06-23","v":0.0},{"d":"2023-06-26","v":-0.083},{"d":"2023-06-30","v":-0.097},{"d":"2023-07-08","v":-0.1},{"d":"2023-07-10","v":-0.11},{"d":"2023-07-11","v":-0.2},{"d":"2023-07-12","v":-0.178},{"d":"2023-07-15","v":-0.178}]
},
"encoding": {
"x": {"field": "d", "type": "temporal", "scale": {"type": "utc", "domain": [{"year": 2021, "month": 12, "date": 1, "utc": true}, {"year": 2023, "month": 7, "date": 15, "utc": true}]},
 "axis": {"title": null, "grid": false, "ticks": false, "domain": true, "domainColor": "#D9D9D9", "domainWidth": 1.5, "labelFont": "Lato", "labelFontSize": 22, "labelColor": "#595959", "labelPadding": 18, "labelFlush": false, "labelOverlap": false, "labelExpr": "utcFormat(datum.value, '%-d-%b')",
 "values": [{"year":2021,"month":12,"date":1,"utc":true},{"year":2022,"month":1,"date":1,"utc":true},{"year":2022,"month":2,"date":1,"utc":true},{"year":2022,"month":3,"date":1,"utc":true},{"year":2022,"month":4,"date":1,"utc":true},{"year":2022,"month":5,"date":1,"utc":true},{"year":2022,"month":6,"date":1,"utc":true},{"year":2022,"month":7,"date":1,"utc":true},{"year":2022,"month":8,"date":1,"utc":true},{"year":2022,"month":9,"date":1,"utc":true},{"year":2022,"month":10,"date":1,"utc":true},{"year":2022,"month":11,"date":1,"utc":true},{"year":2022,"month":12,"date":1,"utc":true},{"year":2023,"month":1,"date":1,"utc":true},{"year":2023,"month":2,"date":1,"utc":true},{"year":2023,"month":3,"date":1,"utc":true},{"year":2023,"month":4,"date":1,"utc":true},{"year":2023,"month":5,"date":1,"utc":true},{"year":2023,"month":6,"date":1,"utc":true},{"year":2023,"month":7,"date":1,"utc":true}]}},
"y": {"field": "v", "type": "quantitative", "scale": {"domain": [-0.6, 1.0], "nice": false, "zero": false},
 "axis": {"title": null, "values": [-0.6, -0.4, -0.2, 0, 0.2, 0.4, 0.6, 0.8, 1.0], "grid": true, "gridColor": "#D9D9D9", "gridWidth": 1.5, "domain": false, "ticks": false, "labelFont": "Lato", "labelFontSize": 28, "labelColor": "#595959", "labelPadding": 30, "labelExpr": "datum.value < 0 ? '-$' + format(-datum.value, '.2f') : '$' + format(datum.value, '.2f')"}}
},
"layer": [
{"data": {"name": "la"}, "mark": {"type": "line", "strokeWidth": 4.8, "clip": true, "strokeJoin": "round"},
 "encoding": {"color": {"datum": "LA CARB #2 Basis", "type": "nominal",
  "scale": {"domain": ["LA CARB #2 Basis", "USGC ULSD", "Group 3 ULSD", "NYH Barge ULSD", "Chicago BCX ULSD Basis", "SF Spot CARB#2"], "range": ["#FF0000", "#ED7D31", "#A5A5A5", "#FFC000", "#4472C4", "#70AD47"]},
  "legend": {"title": null, "orient": "none", "legendX": -33, "legendY": 138, "columns": 2, "direction": "horizontal", "padding": 0, "symbolType": "stroke", "symbolSize": 2700, "symbolStrokeWidth": 5, "labelFont": "Open Sans", "labelFontSize": 31, "labelColor": "#595959", "labelOffset": 6, "labelLimit": 0, "rowPadding": 16.5, "columnPadding": 24.5}}}},
{"data": {"name": "usgc"}, "mark": {"type": "line", "strokeWidth": 4.8, "clip": true, "strokeJoin": "round"}, "encoding": {"color": {"datum": "USGC ULSD", "type": "nominal"}}},
{"data": {"name": "g3"}, "mark": {"type": "line", "strokeWidth": 4.8, "clip": true, "strokeJoin": "round"}, "encoding": {"color": {"datum": "Group 3 ULSD", "type": "nominal"}}},
{"data": {"name": "nyh"}, "mark": {"type": "line", "strokeWidth": 4.8, "clip": true, "strokeJoin": "round"}, "encoding": {"color": {"datum": "NYH Barge ULSD", "type": "nominal"}}},
{"data": {"name": "chi"}, "mark": {"type": "line", "strokeWidth": 4.8, "clip": true, "strokeJoin": "round"}, "encoding": {"color": {"datum": "Chicago BCX ULSD Basis", "type": "nominal"}}},
{"data": {"name": "sf"}, "mark": {"type": "line", "strokeWidth": 4.8, "clip": true, "strokeJoin": "round"}, "encoding": {"color": {"datum": "SF Spot CARB#2", "type": "nominal"}}}
]
}
